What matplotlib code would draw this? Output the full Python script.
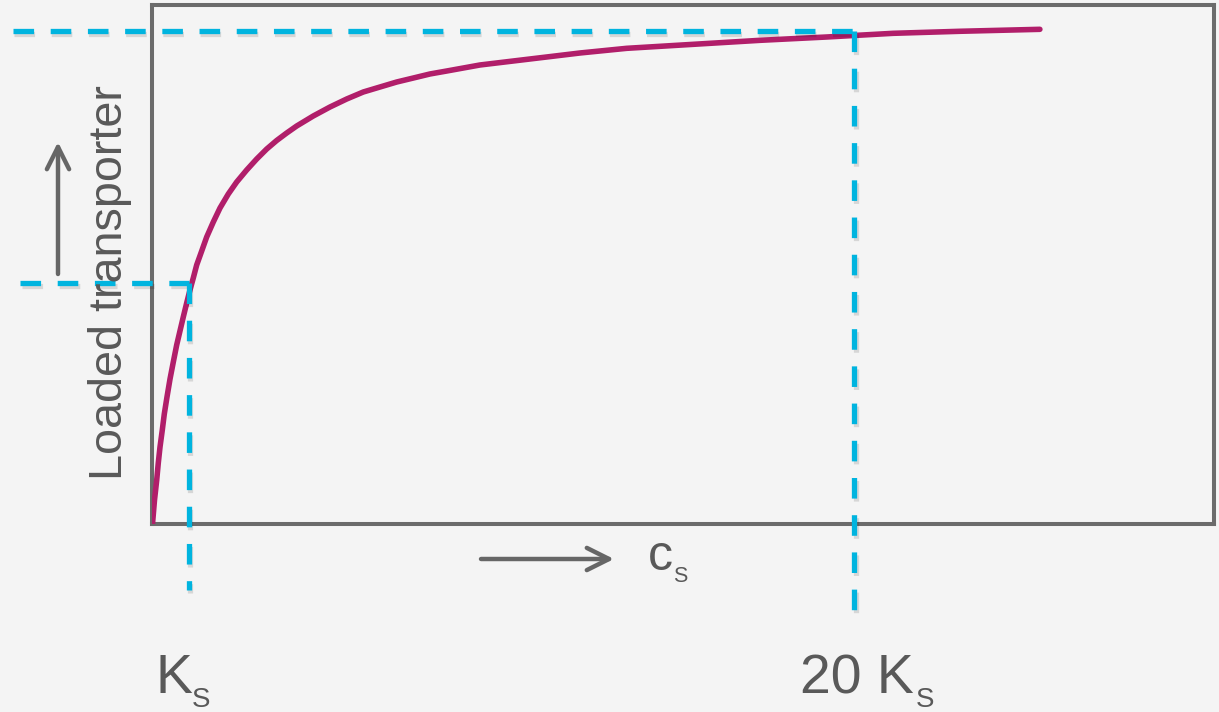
import matplotlib.pyplot as plt
import matplotlib.patheffects as pe

plt.rcParams['font.family'] = ['Liberation Sans', 'DejaVu Sans']

# substrate concentration in units of Ks
cs = [0.0, 0.057, 0.120, 0.165, 0.214, 0.279, 0.336, 0.413, 0.499, 0.593,
      0.689, 0.783, 0.877, 0.974, 1.068, 1.162, 1.259, 1.402, 1.544, 1.732,
      1.923, 2.160, 2.399, 2.684, 2.969, 3.254, 3.538, 3.823, 4.108, 4.581,
      5.057, 5.533, 6.006, 6.481, 6.957, 7.430, 7.906, 8.382, 9.330, 10.279,
      11.231, 12.179, 13.510, 15.407, 17.308, 19.208, 21.105, 23.006, 25.285]
# loaded transporter (fraction of plot height)
loaded = [0.0, 0.0462, 0.0847, 0.1175, 0.1483, 0.1810, 0.2118, 0.2446, 0.2792,
          0.3120, 0.3447, 0.3717, 0.3986, 0.4256, 0.4506, 0.4737, 0.4988, 0.5257,
          0.5527, 0.5815, 0.6085, 0.6355, 0.6586, 0.6817, 0.7029, 0.7221, 0.7385,
          0.7529, 0.7664, 0.7857, 0.8030, 0.8184, 0.8319, 0.8415, 0.8511, 0.8588,
          0.8666, 0.8723, 0.8839, 0.8916, 0.8993, 0.9070, 0.9160, 0.9237, 0.9314,
          0.9378, 0.9449, 0.9488, 0.9526]

ks_marks = [1.026, 20.0]       # where the dashed guides hit the curve
ks_levels = [0.4635, 0.950]
ks_labels = ['K', '20 K']

BG = '#f4f4f4'
CURVE = '#b11e6a'
CYAN = '#00b4df'
GREY = '#6b6b6b'
TEXT = '#595959'

fig = plt.figure(figsize=(12.19, 7.12), dpi=100, facecolor=BG)
ax = fig.add_axes([0.1251, 0.2640, 0.8712, 0.7294])
ax.set_facecolor(BG)

ax.plot(cs, loaded, color=CURVE, lw=4.0, solid_capstyle='round',
        solid_joinstyle='round', zorder=3)
ax.set_xlim(0, 30.26)
ax.set_ylim(0, 1)
ax.set_xticks([])
ax.set_yticks([])
for s in ax.spines.values():
    s.set_color(GREY)
    s.set_linewidth(2.9)

# dashed guide lines, they run out of the box
shadow = [pe.SimpleLineShadow(offset=(1.2, -2.2), shadow_color='black', alpha=0.12),
          pe.Normal()]
h_start = [-3.775, -3.98]
v_end = [-0.127, -0.1695]
for xm, ym, x0, y0 in zip(ks_marks, ks_levels, h_start, v_end):
    kw = dict(color=CYAN, lw=3.8, linestyle=(0, (3.9, 3.15)), dash_capstyle='butt',
              clip_on=False, path_effects=shadow, zorder=4)
    ax.plot([x0, xm], [ym, ym], **kw)
    ax.plot([xm, xm], [ym, y0], **kw)


def fx(px):
    return px / 1219


def fy(py):
    return (712 - py) / 712


# labels under the axis
fig.text(fx(156), fy(693), ks_labels[0], fontsize=40, color=TEXT, va='baseline')
fig.text(fx(192), fy(707), 'S', fontsize=20, color=TEXT, va='baseline')
fig.text(fx(800), fy(693), ks_labels[1], fontsize=40, color=TEXT, va='baseline')
fig.text(fx(916), fy(707), 'S', fontsize=20, color=TEXT, va='baseline')

fig.text(fx(648), fy(570), 'c', fontsize=36, color=TEXT, va='baseline')
fig.text(fx(673), fy(582), 'S', fontsize=15.5, color=TEXT, va='baseline')

fig.text(fx(109.5), fy(283), 'Loaded transporter', fontsize=33.7, color=TEXT,
         rotation=90, ha='center', va='center')

arrow = dict(arrowstyle='->,head_length=0.4,head_width=0.2', color='#666666',
             lw=3.2, mutation_scale=40, shrinkA=0, shrinkB=0)
ax.annotate('', xy=(58, 712 - 142), xytext=(58, 712 - 274),
            xycoords='figure pixels', arrowprops=arrow)
ax.annotate('', xy=(614, 712 - 559), xytext=(481, 712 - 559),
            xycoords='figure pixels', arrowprops=arrow)

fig.savefig('out.png', dpi=100, facecolor=BG)
